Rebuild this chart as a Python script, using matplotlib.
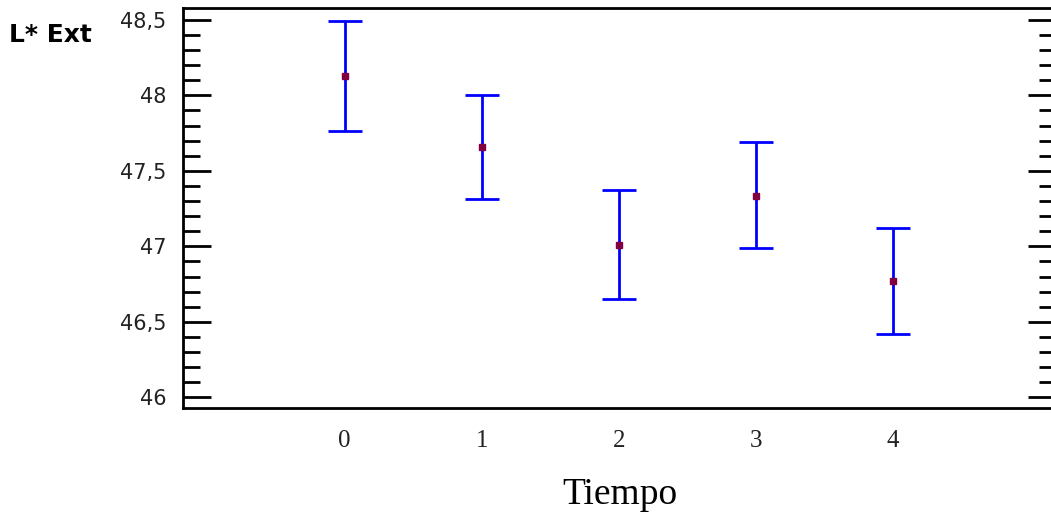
import matplotlib
matplotlib.use("Agg")
import matplotlib.pyplot as plt
from matplotlib.ticker import MultipleLocator, FuncFormatter

# data
tiempo = [0, 1, 2, 3, 4]
media = [48.13, 47.66, 47.01, 47.33, 46.77]
limite_inf = [47.765, 47.31, 46.65, 46.99, 46.42]
limite_sup = [48.49, 48.0, 47.37, 47.69, 47.12]

err_low = [m - l for m, l in zip(media, limite_inf)]
err_high = [h - m for m, h in zip(media, limite_sup)]

fig = plt.figure(figsize=(10.51, 5.15), dpi=100)
# right spine sits just outside the picture, as in the original
ax = fig.add_axes([0.174, 0.208, 0.831, 0.777])

ax.errorbar(tiempo, media, yerr=[err_low, err_high], fmt='none',
            ecolor='#0000ff', elinewidth=2, capsize=12.5, capthick=2)
ax.plot(tiempo, media, 's', color='#800040', markersize=4.5, linestyle='none')

ax.set_xlim(-1.18, 5.19)
ax.set_ylim(45.93, 48.58)

ax.yaxis.set_major_locator(MultipleLocator(0.5))
ax.yaxis.set_minor_locator(MultipleLocator(0.1))
ax.yaxis.set_major_formatter(FuncFormatter(lambda v, p: ('%g' % v).replace('.', ',')))
ax.set_xticks(tiempo)

ax.tick_params(axis='y', which='major', direction='in', length=20, width=2,
               right=True, labelsize=15, color='black')
ax.tick_params(axis='y', which='minor', direction='in', length=12, width=2,
               right=True, color='black')
ax.tick_params(axis='x', length=0, pad=16)
for lab in ax.get_yticklabels():
    lab.set_family('DejaVu Sans')
    lab.set_color('#222222')
for lab in ax.get_xticklabels():
    lab.set_family('Liberation Serif')
    lab.set_fontsize(18)
    lab.set_color('#222222')
ax.yaxis.set_tick_params(pad=12)

for sp in ax.spines.values():
    sp.set_linewidth(2)
    sp.set_color('black')

ax.set_xlabel('Tiempo', family='Liberation Serif', fontsize=27, labelpad=18)
fig.text(0.009, 0.932, 'L* Ext', fontsize=18, fontweight='bold',
         family='DejaVu Sans', va='center', ha='left')

fig.savefig('out.png', dpi=100)
